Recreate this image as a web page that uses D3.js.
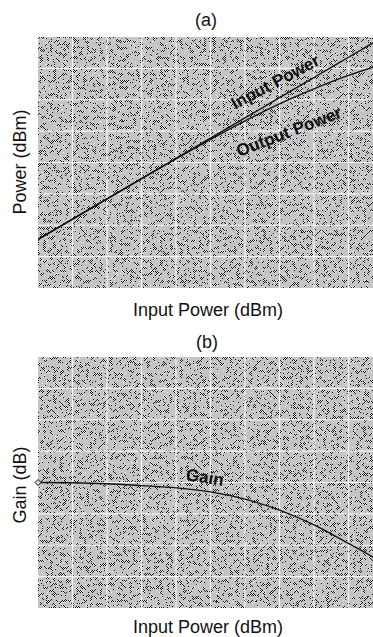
<!DOCTYPE html>
<html>
<head>
<meta charset="utf-8">
<script src="https://cdn.jsdelivr.net/npm/d3@7/dist/d3.min.js"></script>
<style>
  html, body { margin: 0; padding: 0; background: #fff; }
  svg { display: block; font-family: "Liberation Sans", Arial, sans-serif; }
</style>
</head>
<body>
<svg id="chart" width="373" height="637"></svg>
<script>
// Amplifier compression sweep: input power in dBm at each grid step
const inputPower  = [-30, -25, -20, -15, -10, -5, 0, 5, 10, 15, 20];
// Measured output power (dBm) for the same drive levels
const outputPower = [-30, -25, -20, -15, -10.1, -5.3, -0.7, 3.5, 7.2, 10.5, 13.3];
// Small-signal gain (dB) rolling off as the stage compresses
const gainDb      = [20.0, 19.99, 19.96, 19.9, 19.83, 19.7, 19.47, 19.12, 18.65, 18.06, 17.45];

const powerDomain = [-42, 20];
const gainDomain  = [16, 24];
const inputDomain = [-30, 20];
const gridCols = 10, gridRows = 8;

const svg = d3.select("#chart");
const W = 373;

const defs = svg.append("defs");
// 1-px checker dither
const pat = defs.append("pattern").attr("id", "dither")
  .attr("patternUnits", "userSpaceOnUse").attr("width", 2).attr("height", 2);
pat.append("rect").attr("width", 2).attr("height", 2).attr("fill", "#ececec");
pat.append("rect").attr("width", 1).attr("height", 1).attr("fill", "#111");
pat.append("rect").attr("x", 1).attr("y", 1).attr("width", 1).attr("height", 1).attr("fill", "#111");

// blotchy grey overlay that breaks the dither into a maze-like halftone
const f = defs.append("filter").attr("id", "blotch")
  .attr("x", 0).attr("y", 0).attr("width", 1).attr("height", 1)
  .attr("color-interpolation-filters", "sRGB");
f.append("feTurbulence").attr("type", "fractalNoise")
  .attr("baseFrequency", 0.3).attr("numOctaves", 2).attr("seed", 11).attr("result", "n");
f.append("feColorMatrix").attr("type", "matrix")
  .attr("values", "0 0 0 0 0.77  0 0 0 0 0.77  0 0 0 0 0.77  1 0 0 0 0").attr("result", "a");
const ct = f.append("feComponentTransfer");
ct.append("feFuncA").attr("type", "discrete").attr("tableValues", "0 0 0 0 0 1 1 1 1 1 1 1");
// fine grain on the grey areas
const f2 = defs.append("filter").attr("id", "grain")
  .attr("x", 0).attr("y", 0).attr("width", 1).attr("height", 1)
  .attr("color-interpolation-filters", "sRGB");
f2.append("feTurbulence").attr("type", "fractalNoise")
  .attr("baseFrequency", 1.2).attr("numOctaves", 1).attr("seed", 3);
f2.append("feColorMatrix").attr("type", "matrix")
  .attr("values", "0 0 0 0 0.15  0 0 0 0 0.15  0 0 0 0 0.15  1 0 0 0 0");
const ct2 = f2.append("feComponentTransfer");
ct2.append("feFuncA").attr("type", "discrete").attr("tableValues", "0 0 0 0 0 0 0 0 1 1");

function panel(top, yDomain) {
  const left = 38, right = 383, bottom = top + 251;
  const x = d3.scaleLinear().domain(inputDomain).range([left, right]);
  const y = d3.scaleLinear().domain(yDomain).range([bottom, top]);
  const clipId = "clip" + top;
  defs.append("clipPath").attr("id", clipId)
    .append("rect").attr("x", left).attr("y", top).attr("width", W - left).attr("height", bottom - top);
  const g = svg.append("g");
  const box = (fill, filter) => {
    const r = g.append("rect").attr("x", left).attr("y", top)
      .attr("width", right - left).attr("height", bottom - top).attr("fill", fill);
    if (filter) r.attr("filter", filter);
  };
  box("url(#dither)");
  box("#000", "url(#blotch)");
  box("#000", "url(#grain)");
  // white grid, evenly dividing each domain
  const xs = d3.range(1, gridCols).map(i => inputDomain[0] + i * (inputDomain[1] - inputDomain[0]) / gridCols);
  const ys = d3.range(1, gridRows).map(i => yDomain[0] + i * (yDomain[1] - yDomain[0]) / gridRows);
  g.selectAll(".vx").data(xs).join("line")
    .attr("x1", d => x(d)).attr("x2", d => x(d)).attr("y1", top).attr("y2", bottom)
    .attr("stroke", "#fff").attr("stroke-width", 1.2).attr("stroke-opacity", 0.85);
  g.selectAll(".hy").data(ys).join("line")
    .attr("x1", left).attr("x2", right).attr("y1", d => y(d)).attr("y2", d => y(d))
    .attr("stroke", "#fff").attr("stroke-width", 1.2).attr("stroke-opacity", 0.85);
  const plot = svg.append("g").attr("clip-path", `url(#${clipId})`);
  return { x, y, plot, left, right, top, bottom };
}

function text(str, x, y, opts = {}) {
  const t = svg.append("text").attr("x", x).attr("y", y)
    .attr("text-anchor", "middle").attr("font-size", opts.size || 18)
    .attr("fill", opts.fill || "#111").text(str);
  if (opts.rotate) t.attr("transform", `rotate(${opts.rotate},${x},${y})`);
  if (opts.weight) t.attr("font-weight", opts.weight);
  return t;
}

// (a) power transfer
const a = panel(37, powerDomain);
const lineA = d3.line().curve(d3.curveMonotoneX);
a.plot.append("path")
  .attr("d", lineA(inputPower.map(p => [a.x(p), a.y(p)])))
  .attr("fill", "none").attr("stroke", "#111").attr("stroke-width", 1.4);
a.plot.append("path")
  .attr("d", lineA(inputPower.map((p, i) => [a.x(p), a.y(outputPower[i])])))
  .attr("fill", "none").attr("stroke", "#111").attr("stroke-width", 1.4);

text("(a)", 206, 26);
text("Power (dBm)", 26, 162, { rotate: -90 });
text("Input Power (dBm)", 208, 316);
text("Input Power", 278, 87, { rotate: -28, size: 17, weight: "bold" });
text("Output Power", 291, 137, { rotate: -21, size: 17, weight: "bold" });

// (b) gain compression
const b = panel(357, gainDomain);
b.plot.append("path")
  .attr("d", lineA(inputPower.map((p, i) => [b.x(p), b.y(gainDb[i])])))
  .attr("fill", "none").attr("stroke", "#111").attr("stroke-width", 1.4);
const g0 = [b.x(inputPower[0]), b.y(gainDb[0])];
svg.append("path")
  .attr("d", `M${g0[0] - 3},${g0[1]} L${g0[0]},${g0[1] - 3} L${g0[0] + 3},${g0[1]} L${g0[0]},${g0[1] + 3} Z`)
  .attr("fill", "#ddd").attr("stroke", "#111").attr("stroke-width", 1);

text("(b)", 207, 348);
text("Gain (dB)", 26, 485, { rotate: -90 });
text("Input Power (dBm)", 208, 633);
text("Gain", 204, 483, { rotate: 9, size: 17, weight: "bold" });
</script>
</body>
</html>
